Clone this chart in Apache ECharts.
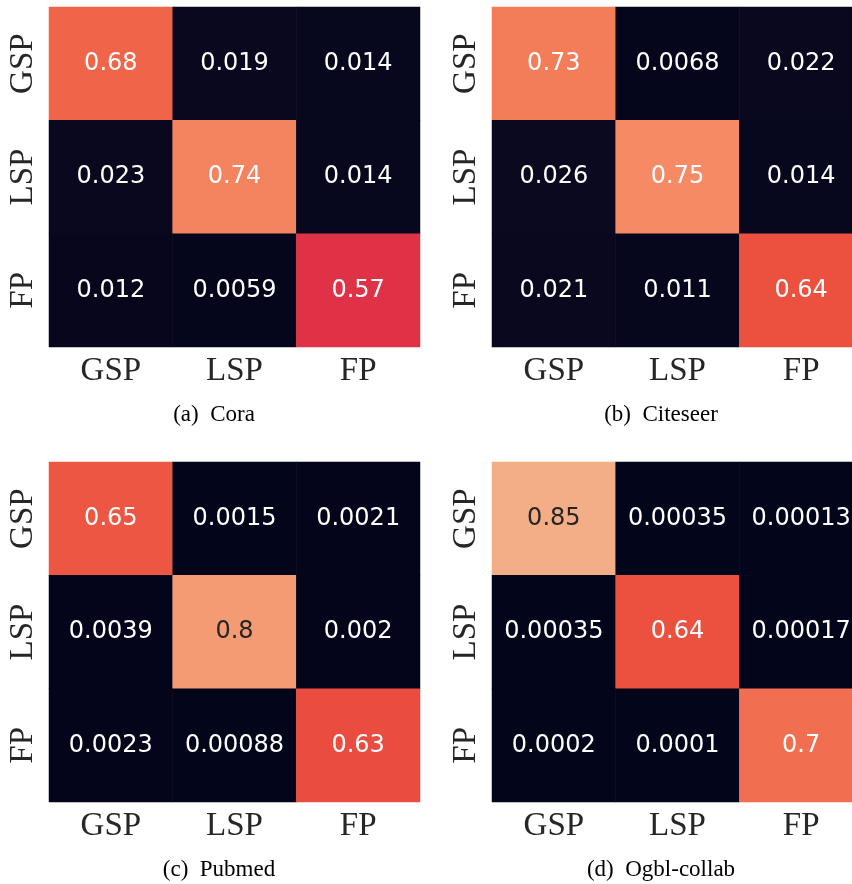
<!DOCTYPE html>
<html>
<head>
<meta charset="utf-8">
<script src="https://cdn.jsdelivr.net/npm/echarts@6/dist/echarts.min.js"></script>
<style>
  html, body { margin: 0; padding: 0; background: #fff; overflow: hidden; }
  /* wider than the window so the last column can run past the right edge, as in the figure */
  #main { width: 880px; height: 884px; }
</style>
</head>
<body>
<div id="main"></div>
<script>
// class labels (x = predicted, y = true)
var classes = ["GSP", "LSP", "FP"];
var captions = ["(a)  Cora", "(b)  Citeseer", "(c)  Pubmed", "(d)  Ogbl-collab"];

// confusion matrices, one row per y class
var cora = [
  [0.68, 0.019, 0.014],
  [0.023, 0.74, 0.014],
  [0.012, 0.0059, 0.57]
];
var citeseer = [
  [0.73, 0.0068, 0.022],
  [0.026, 0.75, 0.014],
  [0.021, 0.011, 0.64]
];
var pubmed = [
  [0.65, 0.0015, 0.0021],
  [0.0039, 0.8, 0.002],
  [0.0023, 0.00088, 0.63]
];
var ogbl = [
  [0.85, 0.00035, 0.00013],
  [0.00035, 0.64, 0.00017],
  [0.0002, 0.0001, 0.7]
];
var matrices = [cora, citeseer, pubmed, ogbl];

// rocket-like colour ramp (stop, colour)
var rampStops = [
  [0.0, "#03051a"], [0.1, "#1f1330"], [0.2, "#3f1b46"], [0.3, "#651e56"],
  [0.4, "#8f1d5b"], [0.5, "#b81858"], [0.57, "#e03246"], [0.64, "#ec513f"],
  [0.68, "#f0654a"], [0.73, "#f37c59"], [0.75, "#f58a64"], [0.8, "#f59b74"],
  [0.85, "#f3ad87"], [0.92, "#f6c4a4"], [1.0, "#faebdd"]
];
function hex(c) { return [1, 3, 5].map(function (i) { return parseInt(c.substr(i, 2), 16); }); }
function rampAt(t) {
  for (var i = 1; i < rampStops.length; i++) {
    if (t <= rampStops[i][0]) {
      var a = rampStops[i - 1], b = rampStops[i];
      var f = (t - a[0]) / (b[0] - a[0]);
      var ca = hex(a[1]), cb = hex(b[1]);
      return "rgb(" + ca.map(function (v, k) { return Math.round(v + (cb[k] - v) * f); }).join(",") + ")";
    }
  }
  return rampStops[rampStops.length - 1][1];
}
var ramp = [];
for (var s = 0; s <= 100; s++) ramp.push(rampAt(s / 100));

var lefts = [49, 492, 49, 492];
var tops = [7, 7, 462, 462];
var capX = [209, 656, 214, 656];
var capY = [398, 398, 853, 853];

var grids = [], xAxes = [], yAxes = [], series = [], titles = [];
matrices.forEach(function (m, k) {
  grids.push({ left: lefts[k], top: tops[k], width: 371, height: 340 });
  xAxes.push({
    type: "category", gridIndex: k, data: classes,
    axisLine: { show: false }, axisTick: { show: false }, splitLine: { show: false },
    axisLabel: { margin: 8, fontFamily: "Liberation Serif", fontSize: 33, color: "#262626" }
  });
  yAxes.push({
    type: "category", gridIndex: k, data: classes, inverse: true,
    axisLine: { show: false }, axisTick: { show: false }, splitLine: { show: false },
    axisLabel: { margin: 9, rotate: 90, fontFamily: "Liberation Serif", fontSize: 33, color: "#262626" }
  });
  var data = [];
  m.forEach(function (row, yi) {
    row.forEach(function (v, xi) {
      data.push({ value: [xi, yi, v], label: { color: v > 0.78 ? "#262626" : "#ffffff" } });
    });
  });
  series.push({
    type: "heatmap", xAxisIndex: k, yAxisIndex: k, data: data,
    label: {
      show: true, fontFamily: "DejaVu Sans", fontSize: 24,
      formatter: function (p) { return String(p.value[2]); }
    },
    emphasis: { disabled: true }
  });
  titles.push({
    text: captions[k], left: capX[k], top: capY[k], textAlign: "center",
    textStyle: { fontFamily: "Liberation Serif", fontSize: 23, fontWeight: "normal", color: "#000" }
  });
});

var chart = echarts.init(document.getElementById("main"));
chart.setOption({
  backgroundColor: "#fff",
  animation: false,
  title: titles,
  grid: grids,
  xAxis: xAxes,
  yAxis: yAxes,
  visualMap: {
    show: false, min: 0, max: 1, seriesIndex: [0, 1, 2, 3],
    inRange: { color: ramp }
  },
  series: series
});
</script>
</body>
</html>
